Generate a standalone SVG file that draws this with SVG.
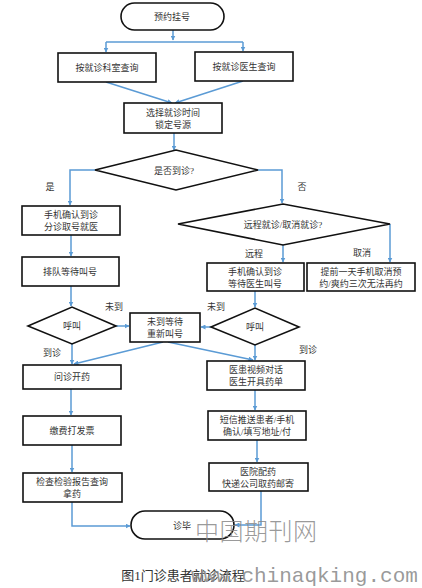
<svg xmlns="http://www.w3.org/2000/svg" width="422" height="588" viewBox="0 0 422 588">
<defs>
<marker id="ah" viewBox="0 0 10 10" refX="9" refY="5" markerWidth="5" markerHeight="5" orient="auto" markerUnits="userSpaceOnUse">
<path d="M0,0 L10,5 L0,10 z" fill="#5B9BD5"/>
</marker>
<style>
.box{fill:#fff;stroke:#111;stroke-width:1.6}
.t{font-family:"Liberation Serif","Noto Sans CJK SC",serif;font-size:9px;fill:#333;text-anchor:middle}
.lb{font-family:"Liberation Serif","Noto Sans CJK SC",serif;font-size:9px;fill:#333;text-anchor:middle}
.c{fill:none;stroke:#5B9BD5;stroke-width:1.5}
.ca{fill:none;stroke:#5B9BD5;stroke-width:1.5;marker-end:url(#ah)}
</style>
</defs>
<rect width="422" height="588" fill="#fff"/>
<g id="connectors">
<path class="ca" d="M173,30 V40"/>
<path class="c" d="M106,42 H243"/>
<path class="ca" d="M106,42 V52"/>
<path class="ca" d="M243,42 V51"/>
<path class="ca" d="M106,82 L172,103"/>
<path class="ca" d="M243,81 L175,103"/>
<path class="ca" d="M174,133 V150"/>
<path class="ca" d="M95,170 H70 V205"/>
<path class="ca" d="M258,170 H282 V203"/>
<path class="ca" d="M71,235 V256"/>
<path class="ca" d="M283,245 V262"/>
<path class="ca" d="M390,224 V262"/>
<path class="ca" d="M71,286 V306"/>
<path class="ca" d="M255,291 V307"/>
<path class="ca" d="M116,326 H129"/>
<path class="ca" d="M211,327 H201"/>
<path class="ca" d="M72,344 V364"/>
<path class="ca" d="M163,342 L74,364"/>
<path class="ca" d="M168,342 L253,360"/>
<path class="ca" d="M255,345 V360"/>
<path class="ca" d="M71,389 V415"/>
<path class="ca" d="M255,390 V410"/>
<path class="ca" d="M257,440 V462"/>
<path class="ca" d="M72,445 V472"/>
<path class="ca" d="M72,502 V526 H130"/>
<path class="ca" d="M261,491 V525 H235"/>
</g>
<g id="labels">
<text class="lb" x="50" y="190">是</text>
<text class="lb" x="302" y="190">否</text>
<text class="lb" x="254" y="257">远程</text>
<text class="lb" x="362" y="256">取消</text>
<text class="lb" x="114" y="310">未到</text>
<text class="lb" x="216" y="310">未到</text>
<text class="lb" x="52" y="356">到诊</text>
<text class="lb" x="308" y="353">到诊</text>
</g>
<g id="n-start"><rect class="box" x="121" y="3" width="103" height="27" rx="13.5"/><text class="t" x="172" y="20">预约挂号</text></g>
<g id="n-dept"><rect class="box" x="58" y="53" width="98" height="29"/><text class="t" x="107" y="71">按就诊科室查询</text></g>
<g id="n-doctor"><rect class="box" x="195" y="52" width="98" height="29"/><text class="t" x="244" y="70">按就诊医生查询</text></g>
<g id="n-select"><rect class="box" x="124" y="103" width="98" height="30"/><text class="t" x="173" y="116">选择就诊时间</text><text class="t" x="173" y="128">锁定号源</text></g>
<g id="n-arrive"><polygon class="box" points="95,170 176,150 258,170 176,190"/><text class="t" x="174" y="174">是否到诊?</text></g>
<g id="n-confirm1"><rect class="box" x="22" y="206" width="98" height="29"/><text class="t" x="71" y="218">手机确认到诊</text><text class="t" x="71" y="230">分诊取号就医</text></g>
<g id="n-remote"><polygon class="box" points="178,224 283,204 390,224 283,245"/><text class="t" x="283" y="228">远程就诊/取消就诊?</text></g>
<g id="n-queue"><rect class="box" x="22" y="257" width="97" height="29"/><text class="t" x="70" y="275">排队等待叫号</text></g>
<g id="n-confirm2"><rect class="box" x="207" y="263" width="97" height="28"/><text class="t" x="255" y="275">手机确认到诊</text><text class="t" x="255" y="287">等待医生叫号</text></g>
<g id="n-cancel"><rect class="box" x="307" y="263" width="108" height="28"/><text class="t" x="361" y="275">提前一天手机取消预</text><text class="t" x="361" y="287">约/爽约三次无法再约</text></g>
<g id="n-call1"><polygon class="box" points="28,326 72,307 116,326 72,344"/><text class="t" x="72" y="329">呼叫</text></g>
<g id="n-wait"><rect class="box" x="130" y="313" width="70" height="29"/><text class="t" x="165" y="325">未到等待</text><text class="t" x="165" y="337">重新叫号</text></g>
<g id="n-call2"><polygon class="box" points="211,327 255,308 299,327 255,345"/><text class="t" x="255" y="330">呼叫</text></g>
<g id="n-consult"><rect class="box" x="23" y="365" width="98" height="24"/><text class="t" x="72" y="380">问诊开药</text></g>
<g id="n-video"><rect class="box" x="207" y="361" width="98" height="29"/><text class="t" x="256" y="373">医患视频对话</text><text class="t" x="256" y="385">医生开具药单</text></g>
<g id="n-pay"><rect class="box" x="23" y="416" width="98" height="29"/><text class="t" x="72" y="434">缴费打发票</text></g>
<g id="n-sms"><rect class="box" x="208" y="411" width="98" height="29"/><text class="t" x="257" y="423">短信推送患者/手机</text><text class="t" x="257" y="435">确认/填写地址/付</text></g>
<g id="n-deliver"><rect class="box" x="209" y="463" width="99" height="28"/><text class="t" x="258" y="475">医院配药</text><text class="t" x="258" y="487">快递公司取药邮寄</text></g>
<g id="n-check"><rect class="box" x="23" y="473" width="99" height="29"/><text class="t" x="72" y="485">检查检验报告查询</text><text class="t" x="72" y="497">拿药</text></g>
<g id="n-end"><rect class="box" x="131" y="511" width="103" height="28" rx="14"/><text class="t" x="182" y="529">诊毕</text></g>
<text x="183" y="580" font-family="Liberation Serif,'Noto Sans CJK SC',serif" font-size="13" fill="#333" text-anchor="middle">图1门诊患者就诊流程</text>
<text x="195" y="540" font-family="'Noto Sans CJK SC',sans-serif" font-size="24" font-weight="300" fill="#888" fill-opacity="0.85" letter-spacing="0.5">中国期刊网</text>
<text x="191" y="582" font-family="'Liberation Mono',monospace" font-size="21" fill="#888" fill-opacity="0.85">www.chinaqking.com</text>
</svg>
